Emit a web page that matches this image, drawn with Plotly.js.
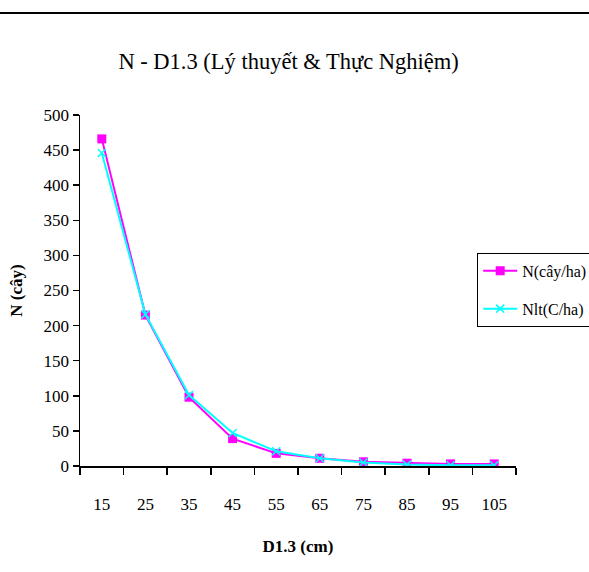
<!DOCTYPE html>
<html>
<head>
<meta charset="utf-8">
<script src="https://cdn.plot.ly/plotly-3.0.1.min.js"></script>
<style>
  html, body { margin: 0; padding: 0; background: #fff; }
  #chart { width: 589px; height: 572px; }
</style>
</head>
<body>
<div id="chart"></div>
<script>
// Diameter classes (cm) at breast height
const diameterClasses = ['15', '25', '35', '45', '55', '65', '75', '85', '95', '105'];
// Observed stem count per hectare
const observedN = [466, 215, 98, 39, 18, 11, 6, 4, 3, 3];
// Theoretical stem count per hectare
const theoreticalN = [446, 216, 101, 47, 21, 11, 5, 2, 1, 1];

const serif = 'Liberation Serif';

const traces = [
  {
    x: diameterClasses,
    y: observedN,
    name: 'N(cây/ha)',
    legendgroup: 'observed',
    type: 'scatter',
    mode: 'lines+markers',
    line: { color: '#ff00ff', width: 2 },
    marker: { symbol: 'square', size: 9, color: '#ff00ff' }
  },
  {
    x: diameterClasses,
    y: theoreticalN,
    name: 'Nlt(C/ha)',
    legendgroup: 'theoretical',
    type: 'scatter',
    mode: 'lines+markers',
    line: { color: '#00ffff', width: 2 },
    marker: { symbol: 'x-thin-open', size: 8, color: '#00ffff', line: { color: '#33b5ff', width: 1.5 } }
  }
];

const layout = {
  width: 589,
  height: 572,
  margin: { l: 80, r: 73, t: 115, b: 106, autoexpand: false },
  paper_bgcolor: '#ffffff',
  plot_bgcolor: '#ffffff',
  font: { family: serif, color: '#000000', size: 16 },
  title: {
    text: 'N - D1.3 (Lý thuyết &amp; Thực Nghiệm)',
    font: { family: serif, size: 22.5, color: '#000000' },
    x: 0.49, xanchor: 'center',
    y: 0.893, yanchor: 'middle'
  },
  xaxis: {
    type: 'category',
    range: [-0.5, 9.5],
    autorange: false,
    tickson: 'boundaries',
    ticks: 'outside',
    ticklen: 7,
    tickcolor: '#000000',
    tickwidth: 1.5,
    ticklabelstandoff: 22,
    showline: true,
    linecolor: '#000000',
    linewidth: 1.5,
    showgrid: false,
    zeroline: false,
    tickfont: { family: serif, size: 17 },
    title: { text: '<b>D1.3 (cm)</b>', font: { family: serif, size: 17 }, standoff: 27 }
  },
  yaxis: {
    range: [0, 500],
    autorange: false,
    dtick: 50,
    ticks: 'outside',
    ticklen: 6,
    tickcolor: '#000000',
    tickwidth: 1.5,
    showline: true,
    linecolor: '#000000',
    linewidth: 1.5,
    showgrid: false,
    zeroline: false,
    tickfont: { family: serif, size: 17 },
    title: { text: '<b>N (cây)</b>', font: { family: serif, size: 17 }, standoff: 16 }
  },
  legend: {
    x: 0.911, xanchor: 'left',
    y: 0.607, yanchor: 'top',
    bgcolor: '#ffffff',
    bordercolor: '#000000',
    borderwidth: 1,
    font: { family: serif, size: 16 },
    traceorder: 'grouped',
    tracegroupgap: 14,
    itemwidth: 34
  },
  shapes: [
    {
      type: 'line', xref: 'paper', yref: 'paper',
      x0: -0.19, x1: 1.2, y0: 1.2906, y1: 1.2906,
      line: { color: '#000000', width: 2 }
    }
  ],
  showlegend: true
};

Plotly.newPlot('chart', traces, layout, { displayModeBar: false, staticPlot: true });
</script>
</body>
</html>
